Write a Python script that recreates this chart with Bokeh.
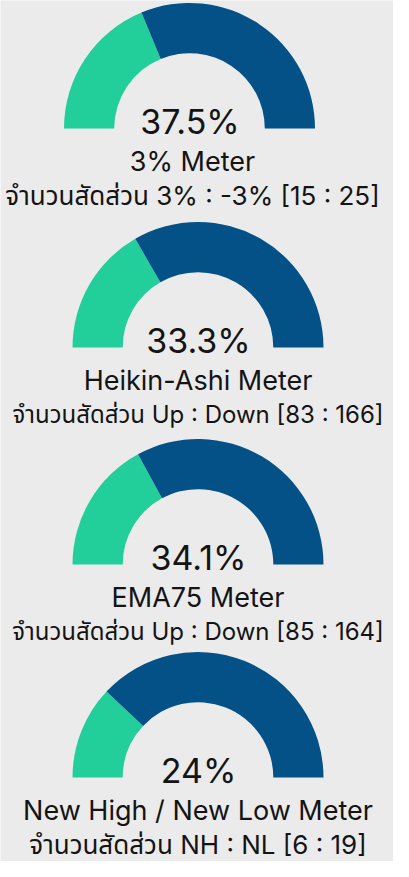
import numpy as np
from bokeh.plotting import figure
from bokeh.models import ColumnDataSource, Range1d
from bokeh.core.properties import value
from bokeh.embed import file_html
from bokeh.resources import INLINE

# ---- data ----
titles = ["3% Meter", "Heikin-Ashi Meter", "EMA75 Meter", "New High / New Low Meter"]
pair_labels = ["3% : -3%", "Up : Down", "Up : Down", "NH : NL"]
up_counts = [15, 83, 85, 6]
down_counts = [25, 166, 164, 19]

# ---- style / layout ----
GREEN = "#22CE99"
BLUE = "#035187"
TEXT = "#141414"
BG = "#ebebeb"

W, H = 393, 861

cx_screen = [189, 197.5, 197.5, 197.5]
cy_screen = [128, 347, 564, 777]
R_OUT, R_IN = 125.5, 75.3
text_dx = [3, 0, 0, 0]
sub_sizes = ["26px", "24px", "24px", "26px"]


def fy(y):
    return H - y


up = np.array(up_counts, dtype=float)
down = np.array(down_counts, dtype=float)
frac = up / (up + down)
cx = np.array(cx_screen, dtype=float)
cy = np.array([fy(v) for v in cy_screen])

split = np.pi - frac * np.pi

p = figure(width=W, height=H, x_range=Range1d(0, W), y_range=Range1d(0, H),
           output_backend="svg", toolbar_location=None, min_border=0)
p.axis.visible = False
p.grid.visible = False
p.outline_line_color = None
p.background_fill_color = BG
p.border_fill_color = BG

green_src = ColumnDataSource(dict(x=cx, y=cy, start=split, end=np.full(4, np.pi)))
blue_src = ColumnDataSource(dict(x=cx, y=cy, start=np.zeros(4), end=split))
p.annular_wedge(x="x", y="y", inner_radius=R_IN, outer_radius=R_OUT,
                start_angle="start", end_angle="end", source=green_src,
                fill_color=GREEN, line_color=None)
p.annular_wedge(x="x", y="y", inner_radius=R_IN, outer_radius=R_OUT,
                start_angle="start", end_angle="end", source=blue_src,
                fill_color=BLUE, line_color=None)


def fmt_pct(f):
    s = f"{f * 100:.1f}"
    if s.endswith(".0"):
        s = s[:-2]
    return s + "%"


pct_text = [fmt_pct(f) for f in frac]
sub_text = [f"จำนวนสัดส่วน {lab} [{a} : {b}]"
            for lab, a, b in zip(pair_labels, up_counts, down_counts)]

tx = cx + np.array(text_dx, dtype=float)
txt_src = ColumnDataSource(dict(x=tx, x_pct=cx + 0.5, y_pct=cy + 7.5,
                                y_title=cy - 32.5, y_sub=cy - 67,
                                pct=pct_text, title=titles, sub=sub_text,
                                sub_size=sub_sizes))
FONT = value("Inter, 'Noto Sans Thai', 'Noto Sans', sans-serif")
p.text(x="x_pct", y="y_pct", text="pct", source=txt_src, text_align="center",
       text_baseline="alphabetic", text_font=FONT, text_font_size="34px", text_color=TEXT)
p.text(x="x", y="y_title", text="title", source=txt_src, text_align="center",
       text_baseline="alphabetic", text_font=FONT, text_font_size="27px", text_color=TEXT)
p.text(x="x", y="y_sub", text="sub", source=txt_src, text_align="center",
       text_baseline="alphabetic", text_font=FONT, text_font_size="sub_size", text_color=TEXT)

open("out.html", "w").write(file_html(p, INLINE))
